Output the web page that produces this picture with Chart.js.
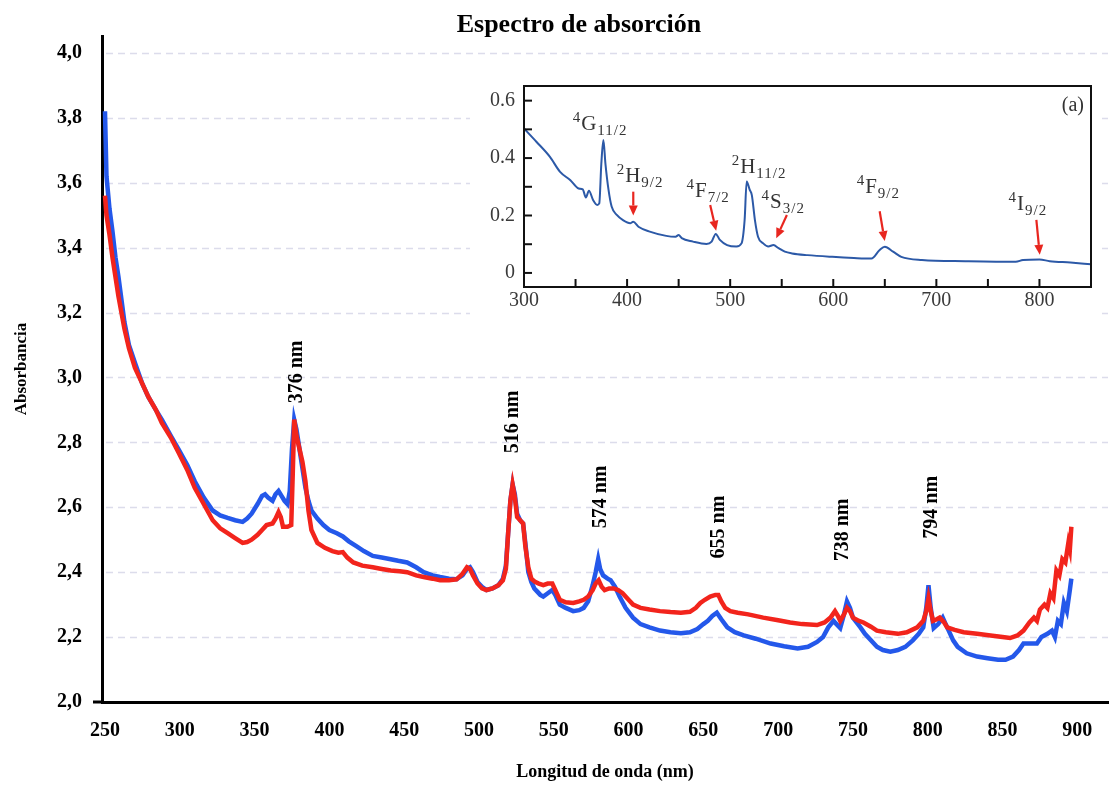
<!DOCTYPE html>
<html><head><meta charset="utf-8">
<script src="https://cdn.jsdelivr.net/npm/chart.js@4.4.1/dist/chart.umd.min.js"></script>
<style>
html,body{margin:0;padding:0;background:#fff;}
#wrap{position:relative;width:1113px;height:785px;overflow:hidden;}
#main{position:absolute;left:0;top:0;}
#inset{position:absolute;left:470px;top:80px;}
</style></head><body>
<div id="wrap">
<canvas id="main" width="1113" height="785"></canvas>
<canvas id="inset" width="632" height="240"></canvas>
</div>
<script>
// ---------------- DATA ----------------
const chartTitle = 'Espectro de absorción';
const xTitle = 'Longitud de onda (nm)';
const yTitle = 'Absorbancia';
const xTicks = [250,300,350,400,450,500,550,600,650,700,750,800,850,900];
const yTicks = [2.0,2.2,2.4,2.6,2.8,3.0,3.2,3.4,3.6,3.8,4.0];

const blueNm = [250,251,253,255,257,259,261,263,266,270,275,279,284,288,294,299,305,310,316,322,327,332,337,342,345,348,352,355,357,359,362,364,366,368,370,372,373.5,375,376.5,378,380,382,384,386,388,392,396,400,405,409,413,418,423,429,435,441,446,452,458,463,469,474,480,485,489,492,494,496,499,502,505,509,513,516,518,519.5,521,522.5,524,525.5,527.5,529.5,531,533,535,537,539,541,543,546,549,551,554,558,563,567,570,573,576,578,579.7,581,583,586,588,591,594,598,603,608,614,621,628,635,641,646,650,653,656,659,662,666,671,677,685,695,704,713,720,726,730,733.5,737,739,741.5,744,746,748,750,755,758,762,766,770,775,780,785,790,794,797,799,800.5,802,804,807,810,812,814,817,820,826,833,840,847,852,857,861,864,868,873,876,880,883,885,887,889,891,893,895,896];
const blueAbs = [3.82,3.62,3.52,3.45,3.37,3.31,3.24,3.17,3.10,3.045,2.98,2.94,2.90,2.87,2.82,2.78,2.73,2.68,2.63,2.59,2.575,2.567,2.56,2.555,2.565,2.58,2.61,2.635,2.64,2.63,2.62,2.64,2.65,2.635,2.62,2.61,2.65,2.78,2.87,2.84,2.78,2.72,2.66,2.62,2.59,2.565,2.545,2.53,2.52,2.51,2.495,2.48,2.465,2.45,2.445,2.44,2.435,2.43,2.415,2.40,2.39,2.385,2.38,2.378,2.39,2.41,2.415,2.40,2.37,2.355,2.345,2.35,2.36,2.38,2.42,2.52,2.62,2.67,2.64,2.58,2.56,2.55,2.49,2.40,2.37,2.35,2.34,2.33,2.325,2.335,2.345,2.33,2.30,2.29,2.28,2.283,2.29,2.31,2.36,2.40,2.44,2.41,2.39,2.38,2.375,2.355,2.325,2.29,2.26,2.24,2.23,2.22,2.215,2.212,2.215,2.225,2.24,2.25,2.265,2.275,2.255,2.23,2.215,2.205,2.195,2.18,2.172,2.165,2.17,2.185,2.20,2.23,2.25,2.24,2.228,2.27,2.31,2.29,2.26,2.23,2.21,2.19,2.17,2.16,2.155,2.16,2.17,2.19,2.21,2.23,2.29,2.36,2.29,2.228,2.24,2.26,2.24,2.22,2.19,2.17,2.15,2.14,2.135,2.13,2.13,2.14,2.16,2.18,2.18,2.18,2.20,2.21,2.22,2.20,2.25,2.24,2.305,2.28,2.345,2.38];

const redNm = [250,251,253,255,257,259,261,263,266,270,275,279,284,288,294,299,305,310,316,322,327,332,337,342,345,348,352,355,358,362,364,366,367.5,369,372,374.5,375.5,376.5,378,380,382,384,386,388,392,397,402,406,409,412,416,422,429,435,441,447,452,458,463,469,474,480,485,489,492,494,496,499,502,505,509,513,516,518,519.5,521,522.5,524,525.5,527.5,529.5,531,533,535,537.5,540,543,546,549,551,554,558,563,567,570,573,576,578,580,582,584,587,590,593,596,600,603,608,614,621,628,635,641,645,648,651,654.6,658,660,662,664.6,668,673,680,690,700,708,716,726,731,735,738,740,741.5,744,746,748,750,754,757,762,766,772,780,786,793,797,799,800.5,802,803.5,806,808,811,813,818,824,833,842,850,855,860,864,868,871,873,875,878,880,882,884,886,888,890,892,894,895,896];
const redAbs = [3.56,3.50,3.44,3.37,3.31,3.25,3.20,3.15,3.09,3.03,2.98,2.94,2.90,2.86,2.815,2.77,2.715,2.66,2.61,2.56,2.535,2.52,2.505,2.49,2.493,2.50,2.515,2.53,2.545,2.55,2.565,2.585,2.57,2.54,2.54,2.545,2.70,2.87,2.82,2.78,2.74,2.68,2.59,2.53,2.49,2.475,2.465,2.46,2.462,2.445,2.43,2.42,2.415,2.41,2.405,2.403,2.40,2.39,2.385,2.38,2.375,2.375,2.378,2.395,2.415,2.41,2.39,2.365,2.35,2.345,2.35,2.36,2.375,2.41,2.52,2.62,2.67,2.63,2.57,2.56,2.55,2.48,2.415,2.38,2.37,2.365,2.36,2.365,2.365,2.345,2.315,2.307,2.305,2.31,2.315,2.325,2.345,2.365,2.375,2.355,2.345,2.35,2.35,2.345,2.335,2.315,2.30,2.29,2.285,2.28,2.277,2.275,2.278,2.29,2.305,2.315,2.325,2.33,2.33,2.31,2.29,2.28,2.275,2.27,2.26,2.252,2.245,2.24,2.237,2.245,2.26,2.28,2.265,2.25,2.27,2.29,2.28,2.26,2.25,2.245,2.232,2.22,2.215,2.21,2.215,2.23,2.25,2.28,2.32,2.28,2.25,2.255,2.26,2.245,2.23,2.222,2.215,2.21,2.205,2.20,2.197,2.205,2.22,2.245,2.26,2.25,2.285,2.30,2.29,2.335,2.32,2.405,2.39,2.44,2.43,2.49,2.47,2.54];

const peakLabels = ['376 nm','516 nm','574 nm','655 nm','738 nm','794 nm'];
const peakLabelNm = [378.4,522.8,581.7,660.6,743.5,802.4];
const peakLabelAbs = [3.017,2.863,2.632,2.539,2.53,2.60];

// inset (a)
const insetXTicks = [300,400,500,600,700,800];
const insetXMarks = [300,350,400,450,500,550,600,650,700,750,800,850];
const insetYTicks = [0,0.2,0.4,0.6];
const insetYMarks = [0,0.1,0.2,0.3,0.4,0.5,0.6];
const insetNm = [300,312,325,335,345,353,357,360,363,367,371,373,375,377,379,382,385,390,396,403,406,411,422,438,447,450,453,464,477,482,486,490,497,506,511,514,516,519,521,524,527,532,537,542,547,553,560,575,599,620,637,645,650,658,666,686,728,777,784,800,810,830,850];
const insetAbs = [0.503,0.457,0.405,0.352,0.323,0.294,0.291,0.263,0.286,0.254,0.237,0.242,0.38,0.463,0.38,0.289,0.231,0.202,0.184,0.173,0.178,0.161,0.144,0.129,0.126,0.132,0.121,0.109,0.101,0.109,0.136,0.115,0.097,0.092,0.103,0.184,0.318,0.289,0.271,0.184,0.126,0.103,0.092,0.097,0.086,0.074,0.068,0.062,0.056,0.052,0.05,0.08,0.091,0.074,0.056,0.045,0.041,0.039,0.045,0.047,0.041,0.036,0.03];
const panelLabel = '(a)';
const termSup  = ['4','2','4','2','4','4','4'];
const termMain = ['G','H','F','H','S','F','I'];
const termSub  = ['11/2','9/2','7/2','11/2','3/2','9/2','9/2'];
const termNm   = [373.8,412.6,478.6,528,551.5,643.7,788.8];
const termAbs  = [0.497,0.318,0.265,0.347,0.225,0.279,0.22];
// arrows: [fromNm, fromAbs, toNm, toAbs]
const arrows = [[406,0.283,406,0.2],[480.6,0.237,486.4,0.147],[555,0.202,544.7,0.121],[645,0.215,649.9,0.111],[797,0.185,800.3,0.063]];

// ---------------- RENDER ----------------
const SERIF = '"Liberation Serif","Times New Roman",serif';
const pts = (xs, ys) => xs.map((x, i) => ({x, y: ys[i]}));

const mainDecor = {
  id: 'mainDecor',
  beforeDatasetsDraw(chart) {
    const {ctx, chartArea, scales: {y}} = chart;
    ctx.save();
    ctx.strokeStyle = 'rgba(185,185,215,0.5)';
    ctx.lineWidth = 1.5;
    ctx.setLineDash([7, 5]);
    yTicks.forEach(v => {
      if (v <= 2.0) return;
      const py = Math.round(y.getPixelForValue(v)) + 0.5;
      ctx.beginPath(); ctx.moveTo(chartArea.left + 4, py); ctx.lineTo(chartArea.right, py); ctx.stroke();
    });
    ctx.restore();
  },
  afterDraw(chart) {
    const {ctx, scales: {x, y}} = chart;
    ctx.save();
    ctx.fillStyle = '#000';
    ctx.font = 'bold 26px ' + SERIF;
    ctx.textAlign = 'center'; ctx.textBaseline = 'middle';
    ctx.fillText(chartTitle, 579, 25);
    ctx.font = 'bold 20px ' + SERIF;
    peakLabels.forEach((t, i) => {
      ctx.save();
      ctx.translate(x.getPixelForValue(peakLabelNm[i]), y.getPixelForValue(peakLabelAbs[i]));
      ctx.rotate(-Math.PI / 2);
      ctx.fillText(t, 0, 0);
      ctx.restore();
    });
    ctx.strokeStyle = '#000'; ctx.lineWidth = 3;
    const py = y.getPixelForValue(2.0);
    ctx.beginPath(); ctx.moveTo(93, py); ctx.lineTo(102, py); ctx.stroke();
    ctx.restore();
  }
};

new Chart(document.getElementById('main'), {
  type: 'line',
  data: {
    datasets: [
      {label: 'rojo', data: pts(redNm, redAbs), borderColor: '#f2241c', borderWidth: 4.5, pointRadius: 0, tension: 0, order: 1},
      {label: 'azul', data: pts(blueNm, blueAbs), borderColor: '#2458ea', borderWidth: 4.5, pointRadius: 0, tension: 0, order: 2}
    ]
  },
  options: {
    responsive: false, animation: false,
    layout: {padding: {left: 5, right: 5, top: 36, bottom: 0}},
    plugins: {legend: {display: false}, tooltip: {enabled: false}, title: {display: false}},
    scales: {
      x: {
        type: 'linear', min: 248, max: 920.5,
        afterBuildTicks: s => { s.ticks = xTicks.map(v => ({value: v})); },
        afterFit: s => { s.height = 83; s.paddingLeft = 0; s.paddingRight = 0; },
        ticks: {font: {family: SERIF, size: 20, weight: 'bold'}, color: '#000', padding: 17, maxRotation: 0, autoSkip: false, callback: v => String(v)},
        grid: {display: false, drawTicks: false},
        border: {display: true, color: '#000', width: 3},
        title: {display: true, text: xTitle, color: '#000', font: {family: SERIF, size: 18, weight: 'bold'}, padding: {top: 0, bottom: 2}}
      },
      y: {
        min: 2.0, max: 4.052,
        afterBuildTicks: s => { s.ticks = yTicks.map(v => ({value: v})); },
        afterFit: s => { s.width = 97; s.paddingTop = 0; s.paddingBottom = 0; },
        ticks: {font: {family: SERIF, size: 20, weight: 'bold'}, color: '#000', padding: 20, autoSkip: false, callback: v => Number(v).toFixed(1).replace('.', ',')},
        grid: {display: false, drawTicks: false},
        border: {display: true, color: '#000', width: 3},
        title: {display: true, text: yTitle, color: '#000', font: {family: SERIF, size: 17, weight: 'bold'}, padding: {top: 6, bottom: 0}}
      }
    }
  },
  plugins: [mainDecor]
});

function drawTerm(ctx, cx, base, sup, main, sub) {
  const big = '21px ' + SERIF, small = '15px ' + SERIF;
  ctx.font = small; ctx.letterSpacing = '1px';
  const ws = ctx.measureText(sup).width, wb = ctx.measureText(sub).width;
  ctx.font = big; ctx.letterSpacing = '0px';
  const wm = ctx.measureText(main).width;
  let x0 = cx - (ws + wm + wb + 1) / 2;
  ctx.textAlign = 'left'; ctx.textBaseline = 'alphabetic';
  ctx.font = small; ctx.letterSpacing = '1px';
  ctx.fillText(sup, x0, base - 8);
  ctx.font = big; ctx.letterSpacing = '0px';
  ctx.fillText(main, x0 + ws, base);
  ctx.font = small; ctx.letterSpacing = '1px';
  ctx.fillText(sub, x0 + ws + wm + 1, base + 5);
  ctx.letterSpacing = '0px';
}

const insetDecor = {
  id: 'insetDecor',
  beforeDraw(chart) {
    const {ctx, width, height} = chart;
    ctx.save(); ctx.fillStyle = '#fff'; ctx.fillRect(0, 0, width, height); ctx.restore();
  },
  afterDraw(chart) {
    const {ctx, chartArea: a, scales: {x, y}} = chart;
    ctx.save();
    ctx.strokeStyle = '#111'; ctx.lineWidth = 2;
    ctx.strokeRect(a.left, a.top, a.right - a.left, a.bottom - a.top);
    insetXMarks.forEach(v => {
      const px = x.getPixelForValue(v);
      ctx.beginPath(); ctx.moveTo(px, a.bottom); ctx.lineTo(px, a.bottom - 8); ctx.stroke();
    });
    insetYMarks.forEach(v => {
      const py = y.getPixelForValue(v);
      ctx.beginPath(); ctx.moveTo(a.left, py); ctx.lineTo(a.left + 8, py); ctx.stroke();
    });
    ctx.fillStyle = '#333';
    termMain.forEach((m, i) => {
      drawTerm(ctx, x.getPixelForValue(termNm[i]), y.getPixelForValue(termAbs[i]), termSup[i], m, termSub[i]);
    });
    ctx.font = '20px ' + SERIF; ctx.textAlign = 'right'; ctx.textBaseline = 'middle';
    ctx.fillText(panelLabel, a.right - 7, a.top + 20);
    ctx.strokeStyle = '#e8261f'; ctx.fillStyle = '#e8261f'; ctx.lineWidth = 2.2;
    arrows.forEach(([n1, v1, n2, v2]) => {
      const x1 = x.getPixelForValue(n1), y1 = y.getPixelForValue(v1);
      const x2 = x.getPixelForValue(n2), y2 = y.getPixelForValue(v2);
      const ang = Math.atan2(y2 - y1, x2 - x1);
      const hl = 10, hw = 4.5;
      const bx = x2 - hl * Math.cos(ang), by = y2 - hl * Math.sin(ang);
      ctx.beginPath(); ctx.moveTo(x1, y1); ctx.lineTo(bx, by); ctx.stroke();
      ctx.beginPath();
      ctx.moveTo(x2, y2);
      ctx.lineTo(bx + hw * Math.sin(ang), by - hw * Math.cos(ang));
      ctx.lineTo(bx - hw * Math.sin(ang), by + hw * Math.cos(ang));
      ctx.closePath(); ctx.fill();
    });
    ctx.restore();
  }
};

new Chart(document.getElementById('inset'), {
  type: 'line',
  data: {datasets: [{data: pts(insetNm, insetAbs), borderColor: '#2c59a7', borderWidth: 2, pointRadius: 0, cubicInterpolationMode: 'monotone'}]},
  options: {
    responsive: false, animation: false,
    layout: {padding: {left: 0, top: 6, right: 11, bottom: 0}},
    plugins: {legend: {display: false}, tooltip: {enabled: false}},
    scales: {
      x: {
        type: 'linear', min: 300, max: 850,
        afterBuildTicks: s => { s.ticks = insetXTicks.map(v => ({value: v})); },
        afterFit: s => { s.height = 33; s.paddingLeft = 0; s.paddingRight = 0; },
        ticks: {font: {family: SERIF, size: 20}, color: '#3a3a3a', padding: 2, maxRotation: 0, autoSkip: false, callback: v => String(v)},
        grid: {display: false, drawTicks: false}, border: {display: false}
      },
      y: {
        min: -0.049, max: 0.651,
        afterBuildTicks: s => { s.ticks = insetYTicks.map(v => ({value: v})); },
        afterFit: s => { s.width = 54; s.paddingTop = 0; s.paddingBottom = 0; },
        ticks: {font: {family: SERIF, size: 20}, color: '#3a3a3a', padding: 9, autoSkip: false, callback: v => String(v)},
        grid: {display: false, drawTicks: false}, border: {display: false}
      }
    }
  },
  plugins: [insetDecor]
});
</script>
</body></html>
